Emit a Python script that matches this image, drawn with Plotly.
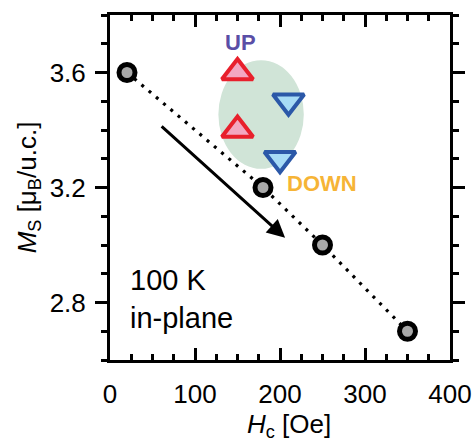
import plotly.graph_objects as go

# Data
hc_circ = [20, 180, 250, 350]
ms_circ = [3.6, 3.2, 3.0, 2.7]
hc_up = [150, 150]
ms_up = [3.6, 3.4]
hc_down = [210, 200]
ms_down = [3.5, 3.3]
x_ticks = [0, 100, 200, 300, 400]
y_ticks = [2.8, 3.2, 3.6]

# ellipse region (data coords) and arrow (data coords)
ell_x = [127.5, 228]
ell_y = [3.265, 3.643]
arrow_tail = (59, 3.417)
arrow_head = (206, 3.025)

FONT = "Liberation Sans, Arial, sans-serif"

fig = go.Figure()
fig.add_shape(type="circle", xref="x", yref="y",
              x0=ell_x[0], x1=ell_x[1], y0=ell_y[0], y1=ell_y[1],
              fillcolor="#d0e4d7", line=dict(width=0), layer="below")

fig.add_trace(go.Scatter(x=hc_circ, y=ms_circ, mode="lines",
                         line=dict(color="black", width=3.2, dash="3px,6.5px"),
                         hoverinfo="skip", showlegend=False))
fig.add_trace(go.Scatter(x=hc_circ, y=ms_circ, mode="markers",
                         marker=dict(symbol="circle", size=16, color="#a8a8a8",
                                     line=dict(color="black", width=5)),
                         showlegend=False))
fig.add_trace(go.Scatter(x=hc_up, y=ms_up, mode="markers",
                         marker=dict(symbol="triangle-up", size=27, color="#f3a7c1",
                                     line=dict(color="#e8202c", width=4)),
                         showlegend=False))
fig.add_trace(go.Scatter(x=hc_down, y=ms_down, mode="markers",
                         marker=dict(symbol="triangle-down", size=27, color="#a7dbf6",
                                     line=dict(color="#2b58a8", width=4)),
                         showlegend=False))

fig.add_annotation(x=arrow_head[0], y=arrow_head[1], ax=arrow_tail[0], ay=arrow_tail[1],
                   xref="x", yref="y", axref="x", ayref="y", text="",
                   showarrow=True, arrowhead=2, arrowsize=1.2, arrowwidth=3,
                   arrowcolor="black", standoff=0)

fig.add_annotation(x=153, y=3.706, xref="x", yref="y", text="<b>UP</b>", showarrow=False,
                   font=dict(family=FONT, size=22, color="#5a4ea6"))
fig.add_annotation(x=249, y=3.214, xref="x", yref="y", text="<b>DOWN</b>", showarrow=False,
                   font=dict(family=FONT, size=22, color="#f6b436"))
fig.add_annotation(x=128, y=280, xref="paper", yref="paper", text="100 K", showarrow=False,
                   font=dict(family=FONT, size=29, color="black"), xanchor="left", yanchor="middle")
fig.add_annotation(x=128, y=318, xref="paper", yref="paper", text="in-plane", showarrow=False,
                   font=dict(family=FONT, size=29, color="black"), xanchor="left", yanchor="middle")
# x-axis title
fig.add_annotation(x=289, y=407, xref="paper", yref="paper", text="<i>H</i><sub>c</sub> [Oe]",
                   showarrow=False, font=dict(family=FONT, size=26, color="black"),
                   xanchor="center", yanchor="top")

# convert pixel positions of the text labels to paper coords
L, R, T, B, W, H = 110, 22, 15, 78, 472, 438
pw, ph = W - L - R, H - T - B
for a in fig.layout.annotations:
    if a.xref == "paper":
        a.x = (a.x - L) / pw
        a.y = 1 - (a.y - T) / ph

fig.update_layout(
    template="none",
    width=W, height=H,
    margin=dict(l=L, r=R, t=T, b=B, autoexpand=False),
    paper_bgcolor="white", plot_bgcolor="white",
    font=dict(family=FONT, size=25, color="black"),
    xaxis=dict(range=[0, 400], tickvals=x_ticks, ticktext=[str(v) for v in x_ticks],
               ticks="inside", ticklen=12, tickwidth=2.5, tickcolor="black",
               minor=dict(dtick=25, tick0=0, ticks="inside", ticklen=6, tickwidth=2.5, tickcolor="black"),
               showline=True, linewidth=3, linecolor="black", mirror="ticks",
               showgrid=False, zeroline=False, ticklabelstandoff=9, automargin=False,
               tickfont=dict(size=26)),
    yaxis=dict(range=[2.6, 3.8], tickvals=y_ticks, ticktext=["2.8", "3.2", "3.6"],
               ticks="outside", ticklen=12, tickwidth=2.5, tickcolor="black",
               minor=dict(dtick=0.1, tick0=2.6, ticks="outside", ticklen=6, tickwidth=2.5, tickcolor="black"),
               showline=True, linewidth=3, linecolor="black", mirror="ticks",
               showgrid=False, zeroline=False, ticklabelstandoff=4, automargin=False,
               tickfont=dict(size=26),
               title=dict(text="<i>M</i><sub>S</sub> [μ<sub>B</sub>/u.c.]", font=dict(size=26), standoff=6)),
)

fig.write_html("out.html", config={"displayModeBar": False},
               post_script="document.body.style.margin='0';document.body.style.overflow='hidden';")
